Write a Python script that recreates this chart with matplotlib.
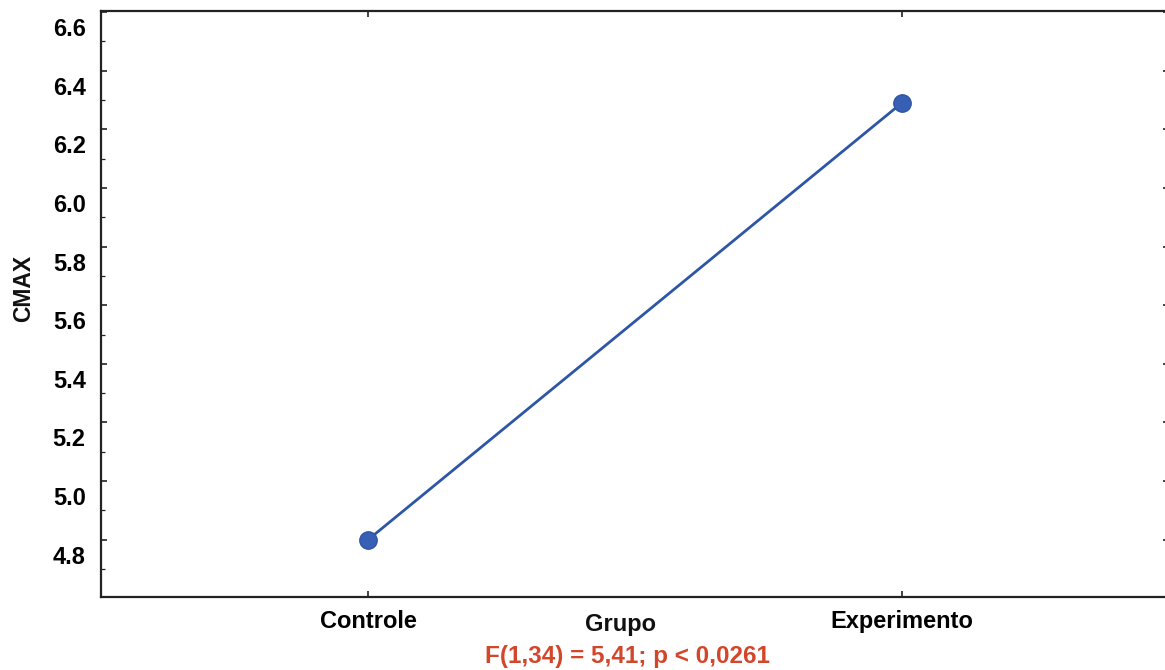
import matplotlib
matplotlib.use("Agg")
import matplotlib.pyplot as plt
from matplotlib.ticker import MultipleLocator
from matplotlib.transforms import ScaledTranslation

categories = ["Controle", "Experimento"]
cmax_values = [4.80, 6.29]
yticks = [4.8, 5.0, 5.2, 5.4, 5.6, 5.8, 6.0, 6.2, 6.4, 6.6]
x_label = "Grupo"
y_label = "CMAX"
stat_text = "F(1,34) = 5,41; p < 0,0261"

plt.rcParams['font.family'] = ['Liberation Sans', 'DejaVu Sans']
plt.rcParams['font.weight'] = 'bold'

W, H = 1165, 670
fig = plt.figure(figsize=(W / 100, H / 100), dpi=100)
ax = fig.add_axes([101 / W, 73 / H, (1169 - 101) / W, (597 - 11) / H])

xpos = list(range(len(categories)))
ax.plot(xpos, cmax_values, color='#2e56a6', lw=2.0, marker='o',
        markersize=12.5, markerfacecolor='#3760b5', markeredgecolor='#2e56a6',
        markeredgewidth=1, zorder=3)

ax.set_xlim(-0.5, 1.5)
ax.set_ylim(4.605, 6.603)
ax.set_xticks(xpos)
ax.set_xticklabels(categories, fontsize=17, fontweight='bold')
ax.set_yticks(yticks)
ax.set_yticklabels([f"{v:.1f}" for v in yticks], fontsize=17, fontweight='bold')
ax.yaxis.set_minor_locator(MultipleLocator(0.1))

ax.tick_params(axis='both', which='both', direction='in', color='#222222')
ax.tick_params(axis='y', which='major', length=4, width=1.2, pad=11, right=True)
ax.tick_params(axis='y', which='minor', length=3, width=0.9, right=True)
ax.tick_params(axis='x', which='major', length=4, width=1.2, pad=9.5, top=True)

# the reference's y tick labels sit about 15 px below their tick marks
shift = ScaledTranslation(0, -15 / 100, fig.dpi_scale_trans)
for lab in ax.get_yticklabels():
    lab.set_transform(lab.get_transform() + shift)

for side in ['left', 'bottom', 'top', 'right']:
    ax.spines[side].set_linewidth(1.6)
    ax.spines[side].set_color('#222222')

fig.text(621 / W, (H - 631) / H, x_label, ha='center', va='baseline',
         fontsize=17, fontweight='bold', color='#111111')
fig.text(24 / W, (H - 288) / H, y_label, ha='center', va='center',
         rotation=90, fontsize=16.5, fontweight='bold', color='#111111')
fig.text(627 / W, (H - 663) / H, stat_text, ha='center', va='baseline',
         fontsize=17.5, fontweight='bold', color='#d2472c')

fig.savefig("out.png", dpi=100, facecolor='white')
